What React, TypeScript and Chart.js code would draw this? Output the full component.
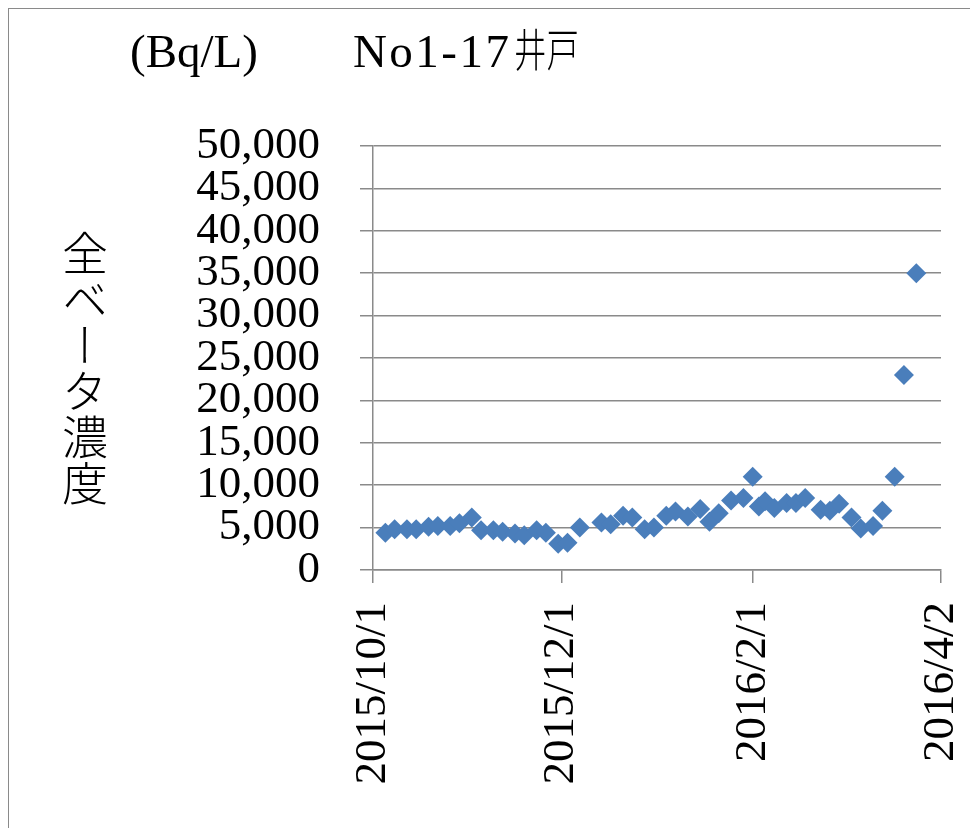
import React, { useEffect, useRef } from 'react';
import { Chart, registerables } from 'chart.js';

Chart.register(...registerables);

// ---- data ----
const sampleDates: string[] = [
  '2015-10-05', '2015-10-08', '2015-10-12', '2015-10-15', '2015-10-19',
  '2015-10-22', '2015-10-26', '2015-10-29', '2015-11-02', '2015-11-05',
  '2015-11-09', '2015-11-12', '2015-11-16', '2015-11-19', '2015-11-23',
  '2015-11-26', '2015-11-30', '2015-12-03', '2015-12-07', '2015-12-14',
  '2015-12-17', '2015-12-21', '2015-12-24', '2015-12-28', '2015-12-31',
  '2016-01-04', '2016-01-07', '2016-01-11', '2016-01-15', '2016-01-18',
  '2016-01-21', '2016-01-25', '2016-01-29', '2016-02-01', '2016-02-03',
  '2016-02-05', '2016-02-08', '2016-02-12', '2016-02-15', '2016-02-18',
  '2016-02-23', '2016-02-26', '2016-02-29', '2016-03-04', '2016-03-07',
  '2016-03-11', '2016-03-14', '2016-03-18', '2016-03-21', '2016-03-25',
];

const betaValues: number[] = [
  4400, 4800, 4800, 4800, 5100,
  5200, 5200, 5500, 6200, 4700,
  4700, 4500, 4300, 4100, 4700,
  4400, 3100, 3200, 5000, 5600,
  5400, 6400, 6200, 4800, 5000,
  6400, 6900, 6300, 7200, 5700,
  6700, 8200, 8500, 11000, 7500,
  8100, 7300, 7900, 7900, 8500,
  7100, 7000, 7800, 6200, 4900,
  5200, 7000, 11000, 23000, 35000,
];

const axisStartDate = '2015-10-01';
const xTickDates: string[] = ['2015-10-01', '2015-12-01', '2016-02-01', '2016-04-02'];
const xTickLabels: string[] = ['2015/10/1', '2015/12/1', '2016/2/1', '2016/4/2'];

const yMin = 0;
const yMax = 50000;
const yStep = 5000;

const titleUnit = '(Bq/L)';
const titleWell = 'No1-17';
const titleWellKanji = '井戸';
const yAxisTitle = '全ベータ濃度';

// ---- helpers ----
const toUtc = (s: string) => {
  const [y, m, d] = s.split('-').map(Number);
  return Date.UTC(y, m - 1, d);
};
const dayOffset = (s: string) => Math.round((toUtc(s) - toUtc(axisStartDate)) / 86400000);

const GRID = '#8a8a8a';
const SERIF = "'Liberation Serif', 'Times New Roman', serif";

export default function App() {
  const ref = useRef<HTMLCanvasElement | null>(null);

  useEffect(() => {
    if (!ref.current) return;
    const tickDays = xTickDates.map(dayOffset);
    const points = sampleDates.map((d, i) => ({ x: dayOffset(d), y: betaValues[i] }));

    const chart = new Chart(ref.current, {
      type: 'scatter',
      data: {
        datasets: [
          {
            data: points,
            pointStyle: 'rectRot',
            pointRadius: 10,
            pointHoverRadius: 10,
            backgroundColor: '#4A7EBB',
            borderColor: '#4A7EBB',
            borderWidth: 0,
          },
        ],
      },
      options: {
        responsive: false,
        animation: false,
        devicePixelRatio: 1,
        layout: { padding: { top: 137, right: 29, left: 0, bottom: 0 } },
        plugins: {
          legend: { display: false },
          title: { display: false },
          tooltip: { enabled: false },
        },
        scales: {
          x: {
            type: 'linear',
            min: tickDays[0],
            max: tickDays[tickDays.length - 1],
            afterBuildTicks: (scale: any) => {
              scale.ticks = tickDays.map((v) => ({ value: v }));
            },
            afterFit: (scale: any) => {
              scale.height = 258;
              scale.paddingLeft = 0;
              scale.paddingRight = 0;
            },
            grid: {
              display: true,
              drawOnChartArea: false,
              drawTicks: true,
              tickLength: 13,
              color: GRID,
              lineWidth: 1.5,
            },
            border: { display: true, color: GRID, width: 1.5 },
            ticks: {
              autoSkip: false,
              minRotation: 90,
              maxRotation: 90,
              padding: 19,
              color: '#000',
              font: { family: SERIF, size: 45 },
              callback: (value: any) => {
                const idx = tickDays.indexOf(Number(value));
                return idx >= 0 ? xTickLabels[idx] : '';
              },
            },
          },
          y: {
            type: 'linear',
            min: yMin,
            max: yMax,
            afterFit: (scale: any) => {
              scale.width = 364;
              scale.paddingTop = 0;
              scale.paddingBottom = 0;
            },
            grid: {
              display: true,
              drawOnChartArea: true,
              drawTicks: true,
              tickLength: 13,
              color: GRID,
              lineWidth: 1.5,
            },
            border: { display: true, color: GRID, width: 1.5 },
            ticks: {
              autoSkip: false,
              stepSize: yStep,
              padding: 40,
              color: '#000',
              font: { family: SERIF, size: 45 },
              callback: (value: any) => Number(value).toLocaleString('en-US'),
            },
          },
        },
      },
    } as any);

    return () => chart.destroy();
  }, []);

  return (
    <div
      style={{
        position: 'fixed',
        left: 8,
        top: 8,
        width: 962,
        height: 820,
        boxSizing: 'border-box',
        borderTop: `1px solid ${GRID}`,
        borderLeft: `1px solid ${GRID}`,
        background: '#fff',
        overflow: 'hidden',
      }}
    >
      <canvas ref={ref} width={961} height={819} style={{ position: 'absolute', left: 0, top: 0 }} />
      <div
        style={{
          position: 'absolute',
          left: 121,
          top: 15,
          fontFamily: SERIF,
          fontSize: 47,
          lineHeight: '47px',
          whiteSpace: 'nowrap',
          color: '#000',
        }}
      >
        <span>{titleUnit}</span>
        <span style={{ marginLeft: 95, letterSpacing: 2.5 }}>{titleWell}</span>
        <span
          style={{
            display: 'inline-block',
            marginLeft: 2,
            fontFamily: "'Noto Sans CJK JP', sans-serif",
            fontWeight: 300,
            fontSize: 45,
            transform: 'scaleX(0.72)',
            transformOrigin: 'left center',
          }}
        >
          {titleWellKanji}
        </span>
      </div>
      <div
        style={{
          position: 'absolute',
          left: 53,
          top: 221,
          writingMode: 'vertical-rl',
          fontFamily: "'Noto Sans CJK JP', sans-serif",
          fontWeight: 300,
          fontSize: 46,
          lineHeight: '46px',
          color: '#000',
          whiteSpace: 'nowrap',
        }}
      >
        {yAxisTitle}
      </div>
    </div>
  );
}
